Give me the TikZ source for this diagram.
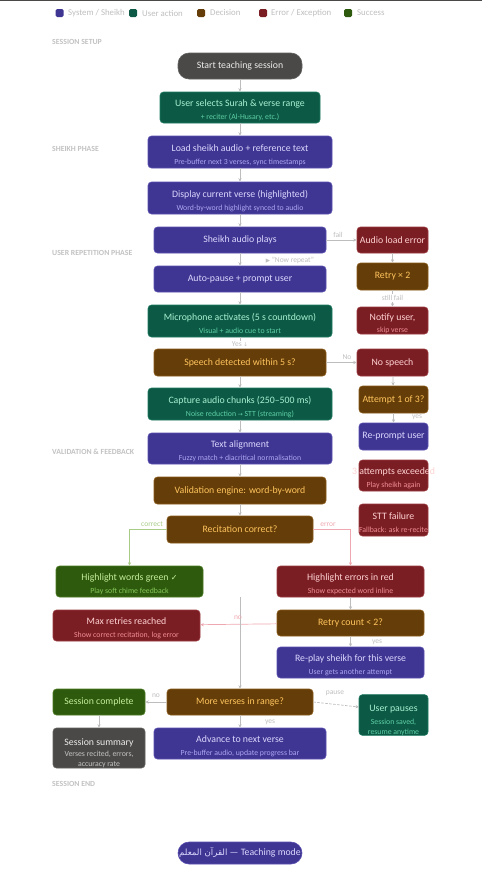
\documentclass[tikz,border=0pt]{standalone}
\usepackage{fontspec}
\setmainfont{Carlito}
\newfontfamily\symf{DejaVu Sans}
\newfontfamily\arabicfont[Script=Arabic]{DejaVu Sans}
\TeXXeTstate=1
\usetikzlibrary{arrows.meta}
\definecolor{sysF}{HTML}{3F3592}\definecolor{sysD}{HTML}{5A4FB0}\definecolor{sysT}{HTML}{DCD8FF}\definecolor{sysS}{HTML}{ADA6F2}
\definecolor{usrF}{HTML}{0C5A45}\definecolor{usrD}{HTML}{1E7A60}\definecolor{usrT}{HTML}{A8F0D2}\definecolor{usrS}{HTML}{5FCFA5}
\definecolor{decF}{HTML}{653D08}\definecolor{decD}{HTML}{8A5A18}\definecolor{decT}{HTML}{FFC55E}
\definecolor{errF}{HTML}{7B1E24}\definecolor{errD}{HTML}{9A3A40}\definecolor{errT}{HTML}{FFD2D2}\definecolor{errS}{HTML}{F08C95}
\definecolor{sucF}{HTML}{2E5A0D}\definecolor{sucD}{HTML}{4A7A22}\definecolor{sucT}{HTML}{C5EE9B}\definecolor{sucS}{HTML}{86C85A}
\definecolor{gryF}{HTML}{4A4947}\definecolor{gryD}{HTML}{626260}\definecolor{gryT}{HTML}{ECECEC}\definecolor{gryS}{HTML}{C4C4C4}
\definecolor{lineG}{HTML}{BDBDBD}\definecolor{lblG}{HTML}{BFBFBF}\definecolor{secG}{HTML}{C2C2C2}
\definecolor{greenL}{HTML}{A8CC88}\definecolor{pinkL}{HTML}{F0A8B0}\definecolor{faintL}{HTML}{E2E2E2}\definecolor{beigeL}{HTML}{F2DCC8}
\newcommand\subtxt[2]{{\fontsize{7.8}{9}\selectfont\color{#1}#2}}
\newcommand\zw[1]{\makebox[0pt][c]{#1}}
\newcommand\sA{\rule{0pt}{12.5pt}}
\newcommand\sB{\rule{0pt}{16.5pt}}
\pgfdeclarelayer{bg}
\pgfsetlayers{bg,main}
\tikzset{
  box/.style={rounded corners=3.5pt, line width=0.6pt, inner sep=0pt, align=center, font=\fontsize{9.8}{10}\selectfont},
  sys/.style={box, fill=sysF, draw=sysD, text=sysT},
  usr/.style={box, fill=usrF, draw=usrD, text=usrT},
  dec/.style={box, fill=decF, draw=decD, text=decT},
  err/.style={box, fill=errF, draw=errD, text=errT},
  suc/.style={box, fill=sucF, draw=sucD, text=sucT},
  gry/.style={box, fill=gryF, draw=gryD, text=gryT},
  pill/.style={rounded corners=11pt},
  conn/.style={draw=lineG, line width=0.7pt, -{Stealth[length=3.5pt,width=3.2pt]}},
  faint/.style={draw=faintL, line width=0.6pt},
  lbl/.style={text=lblG, font=\fontsize{7.5}{8}\selectfont, inner sep=1pt},
  sec/.style={text=secG, font=\fontsize{7.8}{8}\selectfont\bfseries, anchor=west, inner sep=0pt},
  leg/.style={text=lblG, font=\fontsize{8.8}{9}\selectfont, anchor=west, inner sep=0pt},
  legsq/.style={minimum size=8pt, inner sep=0pt, rounded corners=1.5pt}
}
\begin{document}
\begin{tikzpicture}[x=1pt,y=-1pt]
\useasboundingbox (0,0) rectangle (482,870);
\fill[white] (0,0) rectangle (482,870);
\fill[gryF] (0,0) rectangle (482,1.3);
% legend
\node[legsq, fill=sysF] (lq1) at (59.5,13) {};
\node[leg] (lt1) at (68,13) {System / Sheikh};
\node[legsq, fill=usrF] (lq2) at (133,13) {};
\node[leg] (lt2) at (142,13) {User action};
\node[legsq, fill=decF] (lq3) at (201,13) {};
\node[leg] (lt3) at (210,13) {Decision};
\node[legsq, fill=errF] (lq4) at (263,13) {};
\node[leg] (lt4) at (271,13) {Error / Exception};
\node[legsq, fill=sucF] (lq5) at (348,13) {};
\node[leg] (lt5) at (357,13) {Success};
% sections
\node[sec] (s1) at (52,41.5) {SESSION SETUP};
\node[sec] (s2) at (52,149) {SHEIKH PHASE};
\node[sec] (s3) at (52,253) {USER REPETITION PHASE};
\node[sec] (s4) at (52,452) {VALIDATION \& FEEDBACK};
\node[sec] (s5) at (52,784) {SESSION END};
% nodes
\node[gry, pill, minimum width=124pt, minimum height=26pt] (start) at (240,66) {Start teaching session};
\node[usr, minimum width=160pt, minimum height=31pt] (sel) at (240,107.5) {\sA User selects Surah \& verse range\\[3pt]\subtxt{usrS}{+ reciter (Al-Husary, etc.)}};
\node[sys, minimum width=184pt, minimum height=32pt] (load) at (240,152) {\sA Load sheikh audio + reference text\\[3pt]\subtxt{sysS}{Pre-buffer next 3 verses, sync timestamps}};
\node[sys, minimum width=184pt, minimum height=32pt] (disp) at (240,198) {\sA Display current verse (highlighted)\\[3pt]\subtxt{sysS}{Word-by-word highlight synced to audio}};
\node[sys, minimum width=172pt, minimum height=26pt] (sheikh) at (240,240) {Sheikh audio plays};
\node[err, minimum width=71pt, minimum height=26pt] (aerr) at (392.5,240) {\zw{Audio load error}};
\node[sys, minimum width=172pt, minimum height=26pt] (auto) at (240,279) {Auto-pause + prompt user};
\node[dec, minimum width=71pt, minimum height=27pt] (retry2) at (392.5,276.5) {Retry × 2};
\node[err, minimum width=71pt, minimum height=27pt] (notify) at (392.5,320.5) {\sA Notify user,\\[2pt]\subtxt{errS}{skip verse}};
\node[usr, minimum width=184pt, minimum height=32pt] (mic) at (240,321) {\sA Microphone activates (5 s countdown)\\[3pt]\subtxt{usrS}{Visual + audio cue to start}};
\node[dec, minimum width=172pt, minimum height=27pt] (speech) at (240,362.5) {Speech detected within 5 s?};
\node[err, minimum width=71pt, minimum height=27pt] (nosp) at (392.5,362.5) {No speech};
\node[usr, minimum width=184pt, minimum height=32pt] (cap) at (240,404) {\sA Capture audio chunks (250–500 ms)\\[3pt]\subtxt{usrS}{Noise reduction {\symf\fontsize{6}{7}\selectfont→} STT (streaming)}};
\node[dec, minimum width=69pt, minimum height=27pt] (att) at (393.5,399.5) {\zw{Attempt 1 of 3?}};
\node[sys, minimum width=69pt, minimum height=27pt] (repr) at (393.5,436.5) {\zw{Re-prompt user}};
\node[sys, minimum width=184pt, minimum height=31pt] (talign) at (240,448.5) {\sA Text alignment\\[3pt]\subtxt{sysS}{Fuzzy match + diacritical normalisation}};
\node[err, minimum width=69pt, minimum height=31pt] (exc) at (393.5,475.5) {\sA\zw{3 attempts exceeded}\\[3pt]\subtxt{errS}{\zw{Play sheikh again}}};
\node[dec, minimum width=172pt, minimum height=27pt] (valid) at (240,490.5) {Validation engine: word-by-word};
\node[err, minimum width=69pt, minimum height=32pt] (stt) at (393.5,520) {\sA\zw{STT failure}\\[3pt]\subtxt{errS}{\zw{Fallback: ask re-recite}}};
\node[dec, minimum width=146pt, minimum height=27pt] (rec) at (240,529.5) {Recitation correct?};
\node[suc, minimum width=147pt, minimum height=31pt] (hgreen) at (129.5,581.5) {\sA Highlight words green {\symf\fontsize{8}{9}\selectfont ✓}\\[3pt]\subtxt{sucS}{Play soft chime feedback}};
\node[err, minimum width=147pt, minimum height=31pt] (herr) at (350.5,581.5) {\sA Highlight errors in red\\[3pt]\subtxt{errS}{Show expected word inline}};
\node[err, minimum width=147pt, minimum height=31pt] (maxr) at (126.5,625.5) {\sA Max retries reached\\[3pt]\subtxt{errS}{Show correct recitation, log error}};
\node[dec, minimum width=147pt, minimum height=26pt] (rcount) at (350.5,623) {Retry count < 2?};
\node[sys, minimum width=147pt, minimum height=31pt] (replay) at (350.5,662.5) {\sA Re-play sheikh for this verse\\[3pt]\subtxt{sysS}{User gets another attempt}};
\node[suc, minimum width=92pt, minimum height=26pt] (scomp) at (99,702) {Session complete};
\node[dec, minimum width=146pt, minimum height=26pt] (more) at (240,702) {More verses in range?};
\node[usr, minimum width=69pt, minimum height=40pt] (upause) at (393.5,715) {\sB User pauses\\[3pt]\subtxt{usrS}{Session saved,}\\\subtxt{usrS}{resume anytime}};
\node[gry, minimum width=92pt, minimum height=40pt] (ssum) at (99,748) {\sB Session summary\\[1pt]\subtxt{gryS}{\zw{Verses recited, errors,}}\\\subtxt{gryS}{accuracy rate}};
\node[sys, minimum width=172pt, minimum height=31pt] (adv) at (240,743.5) {\sA Advance to next verse\\[3pt]\subtxt{sysS}{Pre-buffer audio, update progress bar}};
\node[sys, pill, minimum width=124pt, minimum height=22pt] (brand) at (240,853) {\zw{{\arabicfont\fontsize{8.6}{10}\selectfont\beginR القرآن المعلم\endR} — Teaching mode}};
% main connectors
\draw[conn] (start) -- (sel);
\draw[conn] (sel) -- (load);
\draw[conn] (load) -- (disp);
\draw[conn] (disp) -- (sheikh);
\draw[conn] (sheikh) -- (auto);
\draw[conn] (auto) -- (mic);
\draw[conn] (mic) -- (speech);
\draw[conn] (speech) -- (cap);
\draw[conn] (cap) -- (talign);
\draw[conn] (talign) -- (valid);
\draw[conn] (valid) -- (rec);
\draw[conn] (sheikh) -- (aerr);
\draw[conn] (aerr) -- (retry2);
\draw[conn] (retry2) -- (notify);
\draw[conn] (speech) -- (nosp);
\draw[conn] (nosp) -- (att);
\draw[conn] (att) -- (repr);
\draw[conn, draw=greenL] (rec.west) -| (hgreen.north);
\draw[conn, draw=pinkL] (rec.east) -| (herr.north);
\draw[conn] (herr) -- (rcount);
\draw[conn, draw=pinkL] (rcount) -- (maxr);
\draw[conn] (rcount) -- (replay);
\coordinate (vtop) at (240,597);
\draw[conn] (vtop) -- (more);
\draw[conn] (more) -- (scomp);
\draw[conn] (more) -- (adv);
\coordinate (upin) at (359,707);
\draw[conn, dashed, dash pattern=on 2.5pt off 1.5pt] (more.east) -- (upin);
\draw[conn] (scomp) -- (ssum);
% faint background lines
\begin{pgfonlayer}{bg}
\draw[faint] (hgreen.south) -- (maxr.north -| hgreen.south);
\coordinate (mjoin) at (129,689);
\draw[draw=beigeL, line width=0.6pt] (maxr.south -| mjoin) -- (mjoin) -- (more.north west);
\coordinate (talR) at (332,436);
\draw[faint] (talR) -- (repr.west);
\coordinate (talD) at (332,452);
\coordinate (colD) at (393.5,452);
\draw[faint, draw=lineG!70, dashed, dash pattern=on 2pt off 1.5pt] (talD) -- (colD);
\draw[faint] (repr.south) -- (stt.north);
\end{pgfonlayer}
% edge labels
\node[lbl] (l1) at (338,234.5) {fail};
\node[lbl] (l2) at (290,260.5) {{\symf\fontsize{5.5}{6}\selectfont ▶} "Now repeat"};
\node[lbl, fill=white] (l3) at (392.5,298) {still fail};
\node[lbl, fill=white] (l4) at (240,344.5) {Yes {\symf\fontsize{5.5}{6}\selectfont ↓}};
\node[lbl] (l5) at (347,357) {No};
\node[lbl] (l6) at (417,417.5) {yes};
\node[lbl, text=greenL] (l7) at (152,524.5) {correct};
\node[lbl, text=pinkL] (l8) at (328,524.5) {error};
\node[lbl, text=pinkL] (l9) at (238,618) {no};
\node[lbl] (l10) at (377,642) {yes};
\node[lbl] (l11) at (335,693.5) {pause};
\node[lbl] (l12) at (156,696) {no};
\node[lbl] (l13) at (270,722) {yes};
\end{tikzpicture}
\end{document}
